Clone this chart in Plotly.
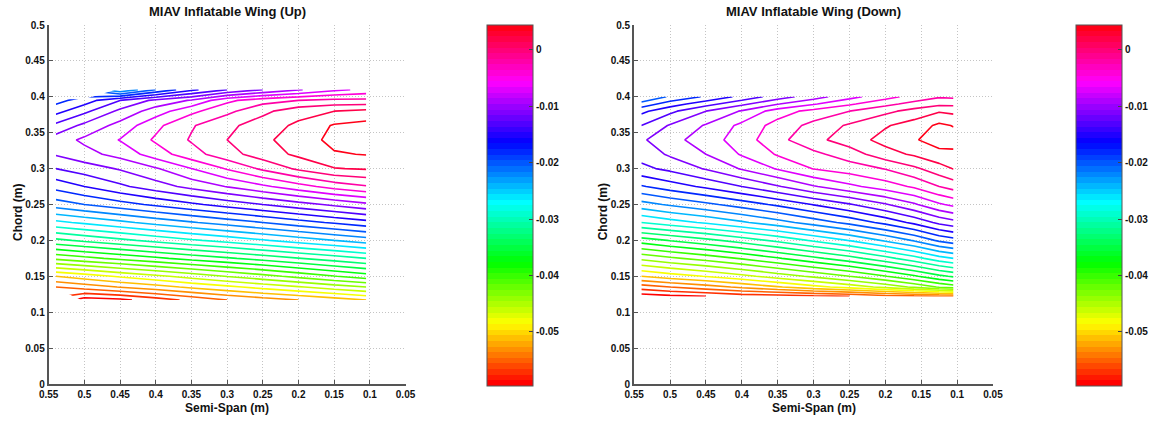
import colorsys
import plotly.graph_objects as go

# ---------------- data ----------------
x_up = [0.105, 0.15, 0.2, 0.25, 0.3, 0.35, 0.4, 0.45, 0.5, 0.54]
y_up = [0.117, 0.135, 0.15, 0.175, 0.2, 0.225, 0.25, 0.275, 0.3, 0.32, 0.34, 0.36, 0.38, 0.395, 0.41]
z_up = [
    [-0.0500, -0.0510, -0.0520, -0.0530, -0.0540, -0.0555, -0.0570, -0.0585, -0.0590, None],
    [-0.0440, -0.0450, -0.0462, -0.0473, -0.0485, -0.0496, -0.0508, -0.0519, -0.0531, -0.0540],
    [-0.0390, -0.0401, -0.0414, -0.0427, -0.0439, -0.0452, -0.0465, -0.0477, -0.0490, -0.0500],
    [-0.0320, -0.0330, -0.0341, -0.0352, -0.0363, -0.0373, -0.0384, -0.0395, -0.0406, -0.0415],
    [-0.0250, -0.0260, -0.0271, -0.0282, -0.0293, -0.0303, -0.0314, -0.0325, -0.0336, -0.0345],
    [-0.0187, -0.0197, -0.0208, -0.0220, -0.0231, -0.0242, -0.0253, -0.0265, -0.0276, -0.0285],
    [-0.0125, -0.0136, -0.0148, -0.0160, -0.0172, -0.0184, -0.0196, -0.0208, -0.0220, -0.0230],
    [-0.0062, -0.0072, -0.0088, -0.0104, -0.0119, -0.0134, -0.0149, -0.0164, -0.0180, -0.0193],
    [-0.0018, -0.0021, -0.0036, -0.0056, -0.0078, -0.0100, -0.0122, -0.0138, -0.0150, -0.0160],
    [0.0001, -0.0002, -0.0016, -0.0030, -0.0048, -0.0068, -0.0090, -0.0113, -0.0127, -0.0138],
    [0.0015, 0.0006, -0.0011, -0.0024, -0.0040, -0.0058, -0.0077, -0.0099, -0.0116, -0.0130],
    [0.0007, 0.0002, -0.0016, -0.0030, -0.0045, -0.0062, -0.0085, -0.0113, -0.0135, -0.0155],
    [-0.0015, -0.0020, -0.0028, -0.0045, -0.0065, -0.0085, -0.0110, -0.0135, -0.0165, -0.0187],
    [-0.0055, -0.0055, -0.0060, -0.0068, -0.0085, -0.0118, -0.0135, -0.0160, -0.0190, -0.0207],
    [-0.0095, -0.0105, -0.0122, -0.0140, -0.0160, -0.0185, -0.0220, -0.0260, None, None],
]

x_down = [0.105, 0.125, 0.16, 0.2, 0.25, 0.3, 0.35, 0.4, 0.45, 0.5, 0.54]
y_down = [0.122, 0.135, 0.15, 0.175, 0.2, 0.225, 0.25, 0.275, 0.3, 0.32, 0.34, 0.36, 0.38, 0.39, 0.40]
z_down = [
    [-0.0540, -0.0542, -0.0546, -0.0550, -0.0560, -0.0565, -0.0570, -0.0572, -0.0580, -0.0585, -0.0590],
    [-0.0410, -0.0418, -0.0436, -0.0454, -0.0472, -0.0487, -0.0502, -0.0516, -0.0529, -0.0540, -0.0550],
    [-0.0357, -0.0365, -0.0383, -0.0401, -0.0420, -0.0436, -0.0451, -0.0466, -0.0479, -0.0490, -0.0500],
    [-0.0280, -0.0288, -0.0308, -0.0327, -0.0348, -0.0365, -0.0382, -0.0398, -0.0412, -0.0424, -0.0435],
    [-0.0208, -0.0216, -0.0238, -0.0257, -0.0279, -0.0297, -0.0315, -0.0331, -0.0346, -0.0359, -0.0370],
    [-0.0147, -0.0155, -0.0175, -0.0194, -0.0214, -0.0231, -0.0248, -0.0263, -0.0277, -0.0289, -0.0300],
    [-0.0095, -0.0103, -0.0123, -0.0142, -0.0162, -0.0179, -0.0196, -0.0211, -0.0225, -0.0237, -0.0248],
    [-0.0052, -0.0060, -0.0077, -0.0090, -0.0105, -0.0122, -0.0142, -0.0160, -0.0176, -0.0190, -0.0202],
    [-0.0019, -0.0028, -0.0044, -0.0059, -0.0070, -0.0079, -0.0098, -0.0118, -0.0138, -0.0155, -0.0165],
    [-0.0005, -0.0006, -0.0017, -0.0028, -0.0050, -0.0065, -0.0078, -0.0098, -0.0120, -0.0137, -0.0152],
    [0.0009, 0.0009, -0.0002, -0.0013, -0.0030, -0.0046, -0.0066, -0.0090, -0.0110, -0.0127, -0.0143],
    [-0.0001, 0.0004, -0.0011, -0.0022, -0.0037, -0.0054, -0.0072, -0.0095, -0.0118, -0.0138, -0.0160],
    [-0.0025, -0.0022, -0.0033, -0.0045, -0.0060, -0.0073, -0.0090, -0.0118, -0.0140, -0.0165, -0.0185],
    [-0.0045, -0.0045, -0.0053, -0.0066, -0.0083, -0.0102, -0.0121, -0.0145, -0.0168, -0.0190, -0.0212],
    [-0.0064, -0.0062, -0.0073, -0.0087, -0.0107, -0.0129, -0.0150, -0.0174, -0.0197, -0.0217, -0.0240],
]

titles = ["MIAV Inflatable Wing (Up)", "MIAV Inflatable Wing (Down)"]
x_label = "Semi-Span (m)"
y_label = "Chord (m)"
x_ticks = [0.55, 0.5, 0.45, 0.4, 0.35, 0.3, 0.25, 0.2, 0.15, 0.1, 0.05]
x_ticktext = ["0.55", "0.5", "0.45", "0.4", "0.35", "0.3", "0.25", "0.2", "0.15", "0.1", "0.05"]
y_ticks = [0, 0.05, 0.1, 0.15, 0.2, 0.25, 0.3, 0.35, 0.4, 0.45, 0.5]
y_ticktext = ["0", "0.05", "0.1", "0.15", "0.2", "0.25", "0.3", "0.35", "0.4", "0.45", "0.5"]
cb_ticks = [0, -0.01, -0.02, -0.03, -0.04, -0.05]
cb_ticktext = ["0", "-0.01", "-0.02", "-0.03", "-0.04", "-0.05"]
z_min, z_max = -0.0596, 0.0044
level_start, level_end, level_step = -0.058, 0.0, 0.002

# ---------------- style ----------------
W, H = 1163, 423
FONT = "Liberation Sans"


def hsv_colorscale(n=64):
    cs = []
    for i in range(n):
        r, g, b = colorsys.hsv_to_rgb(i / n, 1.0, 1.0)
        c = f"rgb({int(round(r*255))},{int(round(g*255))},{int(round(b*255))})"
        cs.append([i / n, c])
        cs.append([(i + 1) / n, c])
    return cs


CS = hsv_colorscale()

panels = [
    dict(x=x_up, y=y_up, z=z_up, xa="x", ya="y", px=(49, 408), cb_left=488),
    dict(x=x_down, y=y_down, z=z_down, xa="x2", ya="y2", px=(638, 999), cb_left=1080),
]
plot_top, plot_bot = 25, 384
cb_top, cb_bot = 25, 386

fig = go.Figure()
layout_axes = {}
annotations = []
for i, p in enumerate(panels):
    fig.add_trace(go.Contour(
        x=p["x"], y=p["y"], z=p["z"], xaxis=p["xa"], yaxis=p["ya"],
        colorscale=CS, zmin=z_min, zmax=z_max, zauto=False,
        contours=dict(start=level_start, end=level_end, size=level_step, coloring="lines"),
        line=dict(width=1.6, smoothing=0), showscale=False, connectgaps=False,
        hoverinfo="skip",
    ))
    # colour bar carrier
    fig.add_trace(go.Scatter(
        x=p["x"][:1], y=p["y"][:1], xaxis=p["xa"], yaxis=p["ya"], mode="markers",
        marker=dict(size=1, opacity=0, color=[z_min], colorscale=CS, cmin=z_min, cmax=z_max,
                    showscale=True,
                    colorbar=dict(
                        x=(p["cb_left"] - 8) / W, xanchor="left",
                        y=1 - (cb_top + cb_bot) / 2 / H, yanchor="middle",
                        len=(cb_bot - cb_top + 20) / H, lenmode="fraction",
                        thickness=46, thicknessmode="pixels",
                        outlinewidth=1, outlinecolor="#555",
                        tickvals=cb_ticks, ticktext=cb_ticktext,
                        ticks="inside", ticklen=4, tickcolor="#444",
                        tickfont=dict(family=FONT, size=10, color="#111", weight="bold"),
                    )),
        hoverinfo="skip", showlegend=False,
    ))
    sfx = "" if i == 0 else "2"
    layout_axes["xaxis" + sfx] = dict(
        domain=[p["px"][0] / W, p["px"][1] / W], anchor="y" + sfx,
        range=[0.55, 0.05], tickvals=x_ticks, ticktext=x_ticktext,
        showgrid=True, gridcolor="#c4c4c4", griddash="1px,2px", gridwidth=1,
        zeroline=False, showline=True, linecolor="#555", linewidth=2,
        ticks="inside", ticklen=4, tickcolor="#555", automargin=False,
        tickfont=dict(family=FONT, size=10, color="#111", weight="bold"),
    )
    layout_axes["yaxis" + sfx] = dict(
        domain=[1 - plot_bot / H, 1 - plot_top / H], anchor="x" + sfx,
        range=[0, 0.5], tickvals=y_ticks, ticktext=y_ticktext,
        showgrid=True, gridcolor="#c4c4c4", griddash="1px,2px", gridwidth=1,
        zeroline=False, showline=True, linecolor="#555", linewidth=2,
        ticks="inside", ticklen=4, tickcolor="#555", automargin=False,
        tickfont=dict(family=FONT, size=10, color="#111", weight="bold"),
    )
    cx = (p["px"][0] + p["px"][1]) / 2 / W
    annotations.append(dict(text=titles[i], x=cx, y=1 - 11 / H, xref="paper", yref="paper",
                            showarrow=False, xanchor="center", yanchor="middle",
                            font=dict(family=FONT, size=13, color="#111", weight="bold")))
    annotations.append(dict(text=x_label, x=cx, y=1 - 408 / H, xref="paper", yref="paper",
                            showarrow=False, xanchor="center", yanchor="middle",
                            font=dict(family=FONT, size=12, color="#111", weight="bold")))
    annotations.append(dict(text=y_label, x=(p["px"][0] - 31) / W, y=1 - 212 / H,
                            xref="paper", yref="paper", textangle=-90,
                            showarrow=False, xanchor="center", yanchor="middle",
                            font=dict(family=FONT, size=12, color="#111", weight="bold")))

fig.update_layout(
    width=W, height=H, margin=dict(l=0, r=0, t=0, b=0),
    paper_bgcolor="white", plot_bgcolor="white", showlegend=False,
    annotations=annotations, **layout_axes,
)
fig.write_html("out.html", config={"displayModeBar": False},
               post_script="document.body.style.margin='0px';document.body.style.overflow='hidden';")
